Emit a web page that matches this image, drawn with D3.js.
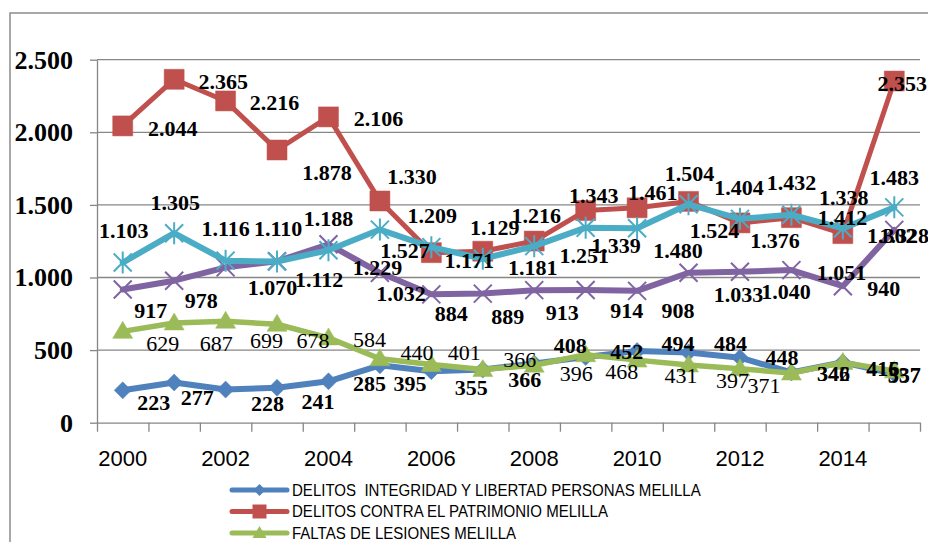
<!DOCTYPE html>
<html>
<head>
<meta charset="utf-8">
<script src="https://cdn.jsdelivr.net/npm/d3@7"></script>
<style>
  body { margin: 0; background: #fff; }
  svg { display: block; }
</style>
</head>
<body>
<div id="chart"></div>
<script>
// categories and tick labels
const years = [2000, 2001, 2002, 2003, 2004, 2005, 2006, 2007, 2008, 2009, 2010, 2011, 2012, 2013, 2014, 2015];
const yearLabels = [2000, 2002, 2004, 2006, 2008, 2010, 2012, 2014];
const yTicks = [0, 500, 1000, 1500, 2000, 2500];

// series values
const integridad = [223, 277, 228, 241, 285, 395, 355, 366, 408, 452, 494, 484, 448, 346, 416, 337];
const patrimonio = [2044, 2365, 2216, 1878, 2106, 1527, 1171, 1181, 1251, 1461, 1480, 1524, 1376, 1412, 1302, 2353];
const lesiones = [629, 687, 699, 678, 584, 440, 401, 366, 396, 468, 431, 397, 371, 342, 415, 357];
const serieMorada = [917, 978, 1070, 1112, 1229, 1032, 884, 889, 913, 914, 908, 1033, 1040, 1051, 940, 1328];
const serieCian = [1103, 1305, 1116, 1110, 1188, 1330, 1209, 1129, 1216, 1343, 1339, 1504, 1404, 1432, 1338, 1483];

const legendNames = [
  "DELITOS  INTEGRIDAD Y LIBERTAD PERSONAS MELILLA",
  "DELITOS CONTRA EL PATRIMONIO MELILLA",
  "FALTAS DE LESIONES MELILLA"
];

// where each data label sits relative to its point (px), the labels were dragged around by hand
const nudgeIntegridad = [[31,12],[23,15],[42,14],[41,14],[41,2],[30,18],[40,16],[42,10],[36,-18],[41,-6],[41,-8],[42,-9],[42,0],[42,1],[40,6],[10,1]];
const nudgePatrimonio = [[50,2],[49,2],[49,1],[50,22],[50,1],[25,49],[38,8],[50,16],[50,14],[67,-18],[41,42],[26,29],[35,17],[51,0],[49,2],[8,2]];
const nudgeLesiones = [[40,12],[42,20],[41,19],[36,16],[41,1],[37,-7],[33,-12],[37,-10],[42,8],[36,17],[44,15],[44,15],[24,16],[42,0],[40,6],[10,4]];
const nudgeMorada = [[28,21],[27,20],[47,20],[42,18],[49,23],[21,20],[20,19],[25,23],[28,22],[41,20],[41,19],[50,22],[46,20],[50,2],[41,2],[10,5]];
const nudgeCian = [[1,-32],[1,-31],[0,-32],[1,-33],[0,-32],[32,-53],[1,-32],[12,-31],[2,-31],[8,-32],[-21,17],[1,-31],[-1,-32],[0,-32],[1,-31],[0,-30]];

const W = 928, H = 542;
const margin = {top: 60, right: 8, bottom: 119, left: 97};

const es = d3.formatLocale({decimal: ",", thousands: ".", grouping: [3], currency: ["", " €"]});
const fmt = es.format(",d");

const svg = d3.select("#chart").append("svg")
  .attr("width", W).attr("height", H);

// chart border (runs off the right and bottom of the picture)
svg.append("rect")
  .attr("x", 10).attr("y", 13)
  .attr("width", W + 20).attr("height", H + 20)
  .attr("fill", "none").attr("stroke", "#8c8c8c").attr("stroke-width", 1.5);

const x = d3.scaleBand().domain(years).range([margin.left, W - margin.right]).padding(0);
const cx = d => x(d) + x.bandwidth() / 2;
const y = d3.scaleLinear().domain([0, 2500]).range([H - margin.bottom - 0.3, margin.top - 0.3]);

// gridlines
svg.append("g").selectAll("line")
  .data(yTicks.filter(t => t > 0))
  .join("line")
    .attr("x1", margin.left).attr("x2", W - margin.right)
    .attr("y1", d => y(d)).attr("y2", d => y(d))
    .attr("stroke", "#868686").attr("stroke-width", 1.3);

// y axis
const yAxis = svg.append("g")
  .attr("transform", `translate(${margin.left},0)`)
  .call(d3.axisLeft(y).tickValues(yTicks).tickSize(7).tickSizeOuter(0).tickPadding(17).tickFormat(fmt));
yAxis.selectAll("line, path").attr("stroke", "#868686").attr("stroke-width", 1.3);
yAxis.selectAll("text")
  .attr("font-family", "'Liberation Serif', 'Times New Roman', serif")
  .attr("font-weight", "bold").attr("font-size", 26).attr("fill", "#000");

// x axis: ticks between categories, labels every other year
const xb = d3.scaleLinear().domain([0, years.length]).range(x.range());
const xTicks = svg.append("g")
  .attr("transform", `translate(0,${y(0)})`)
  .call(d3.axisBottom(xb).ticks(years.length).tickSize(9).tickSizeOuter(0).tickFormat(""));
xTicks.selectAll("line, path").attr("stroke", "#868686").attr("stroke-width", 1.3);

const xLabels = svg.append("g")
  .attr("transform", `translate(0,${y(0)})`)
  .call(d3.axisBottom(x).tickValues(yearLabels).tickSize(0).tickPadding(28));
xLabels.select(".domain").remove();
xLabels.selectAll("text")
  .attr("font-family", "'Liberation Sans', Arial, sans-serif")
  .attr("font-size", 22).attr("fill", "#000");

// markers
function marker(type) {
  const p = d3.path();
  if (type === "diamond") {
    p.moveTo(0, -8.5); p.lineTo(8.5, 0); p.lineTo(0, 8.5); p.lineTo(-8.5, 0); p.closePath();
  } else if (type === "square") {
    p.rect(-10, -10, 20, 20);
  } else if (type === "triangle") {
    p.moveTo(0, -10); p.lineTo(10, 7); p.lineTo(-10, 7); p.closePath();
  } else if (type === "x") {
    p.moveTo(-9, -9); p.lineTo(9, 9); p.moveTo(9, -9); p.lineTo(-9, 9);
  } else if (type === "star") {
    p.moveTo(-9, -9); p.lineTo(9, 9); p.moveTo(9, -9); p.lineTo(-9, 9);
    p.moveTo(0, -11); p.lineTo(0, 11);
  }
  return p.toString();
}

// drawing order as in the original workbook
const series = [
  {values: integridad, nudge: nudgeIntegridad, color: "#4f81bd", width: 6, mark: "diamond", bold: true},
  {values: patrimonio, nudge: nudgePatrimonio, color: "#c0504d", width: 5, mark: "square", bold: true},
  {values: lesiones, nudge: nudgeLesiones, color: "#9bbb59", width: 5.5, mark: "triangle", bold: false},
  {values: serieMorada, nudge: nudgeMorada, color: "#8064a2", width: 6, mark: "x", bold: true},
  {values: serieCian, nudge: nudgeCian, color: "#4bacc6", width: 6, mark: "star", bold: true}
];

const line = d3.line().x((d, i) => cx(years[i])).y(d => y(d));

series.forEach(s => {
  const g = svg.append("g");
  g.append("path")
    .attr("d", line(s.values))
    .attr("fill", "none").attr("stroke", s.color).attr("stroke-width", s.width)
    .attr("stroke-linejoin", "round").attr("stroke-linecap", "round");
  const stroked = s.mark === "x" || s.mark === "star";
  g.selectAll(".m")
    .data(s.values)
    .join("path")
      .attr("class", "m")
      .attr("transform", (d, i) => `translate(${cx(years[i])},${y(d)})`)
      .attr("d", marker(s.mark))
      .attr("fill", stroked ? "none" : s.color)
      .attr("stroke", s.color)
      .attr("stroke-width", stroked ? 2 : 0.5);
});

// data labels on top of everything
series.forEach(s => {
  svg.append("g").selectAll("text")
    .data(s.values)
    .join("text")
      .attr("x", (d, i) => cx(years[i]) + s.nudge[i][0])
      .attr("y", (d, i) => y(d) + s.nudge[i][1])
      .attr("dy", "0.35em")
      .attr("text-anchor", "middle")
      .attr("font-family", "'Liberation Serif', 'Times New Roman', serif")
      .attr("font-weight", s.bold ? "bold" : "normal")
      .attr("font-size", 22)
      .attr("fill", "#000")
      .text(d => fmt(d));
});

// legend (only the first rows fit inside the picture)
const legend = svg.append("g").attr("transform", "translate(232,490)");
const rows = legend.selectAll("g")
  .data(legendNames)
  .join("g")
    .attr("transform", (d, i) => `translate(0,${i * 21.5})`);
rows.append("line")
  .attr("x1", 0).attr("x2", 55).attr("y1", 0).attr("y2", 0)
  .attr("stroke", (d, i) => series[i].color).attr("stroke-width", 5)
  .attr("stroke-linecap", "round");
rows.append("path")
  .attr("transform", "translate(27.5,0) scale(0.7)")
  .attr("d", (d, i) => marker(series[i].mark))
  .attr("fill", (d, i) => series[i].color);
rows.append("text")
  .attr("transform", "translate(60,0) scale(0.94,1)")
  .attr("dy", "0.35em")
  .style("white-space", "pre")
  .attr("font-family", "'Liberation Sans', Arial, sans-serif")
  .attr("font-size", 16).attr("fill", "#000")
  .text(d => d);
</script>
</body>
</html>
